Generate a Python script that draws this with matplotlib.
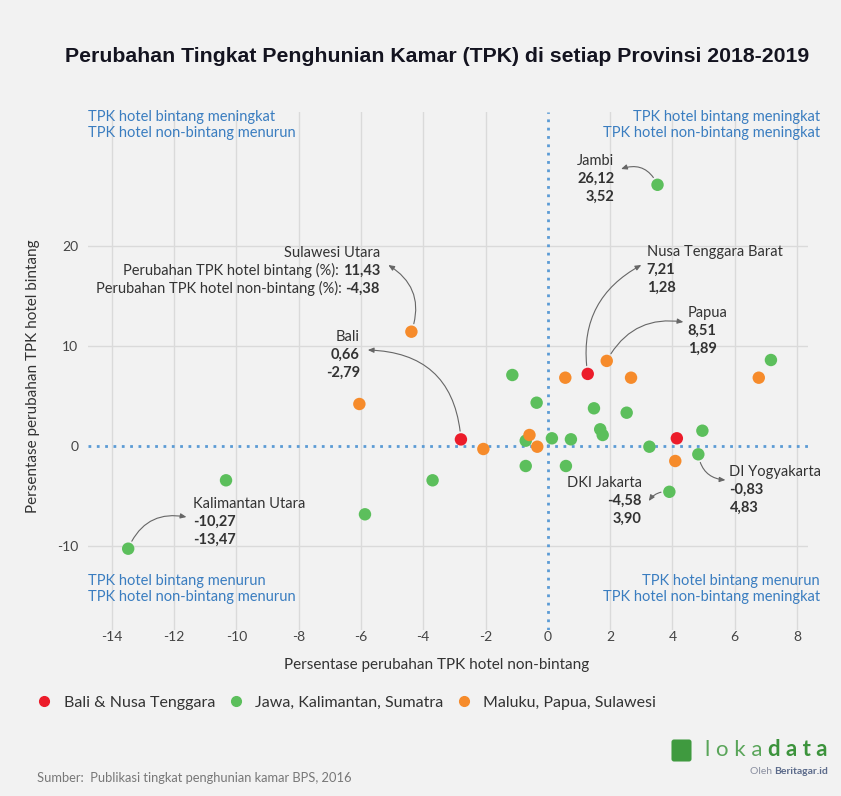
import numpy as np
import matplotlib
matplotlib.use("Agg")
import matplotlib.pyplot as plt
from matplotlib.patches import FancyBboxPatch
from matplotlib.lines import Line2D

plt.rcParams['font.family'] = ['Lato', 'DejaVu Sans']
plt.rcParams['axes.unicode_minus'] = False

# ---- data: x = non-bintang change (%), y = bintang change (%) ----
bali_nt_x = [-2.79, 1.28, 4.14]
bali_nt_y = [0.66, 7.21, 0.77]

jks_x = [3.52, -13.47, -10.33, -3.70, -5.87, 7.16, -1.14, -0.36, 1.48, 2.53, 1.68,
         1.76, 4.96, 3.26, 4.83, 3.90, -0.71, 0.13, 0.74, -0.71, 0.58]
jks_y = [26.12, -10.27, -3.43, -3.43, -6.83, 8.60, 7.10, 4.33, 3.77, 3.33, 1.67,
         1.10, 1.53, -0.07, -0.83, -4.58, 0.53, 0.77, 0.67, -2.00, -2.00]

mps_x = [-4.38, -6.05, -2.07, -0.59, -0.34, 0.56, 1.89, 2.67, 4.09, 6.77]
mps_y = [11.43, 4.20, -0.30, 1.10, -0.07, 6.83, 8.51, 6.83, -1.50, 6.83]

groups = ['Bali & Nusa Tenggara', 'Jawa, Kalimantan, Sumatra', 'Maluku, Papua, Sulawesi']
colors = ['#ec1c2a', '#5cbf5c', '#f68b2b']

# annotated provinces: name, x, y
ann_names = ['Jambi', 'Nusa Tenggara Barat', 'Papua', 'Bali', 'Kalimantan Utara',
             'DKI Jakarta', 'DI Yogyakarta']
ann_x = [3.52, 1.28, 1.89, -2.79, -13.47, 3.90, 4.83]
ann_y = [26.12, 7.21, 8.51, 0.66, -10.27, -4.58, -0.83]

def fmt(v):
    return ('%.2f' % v).replace('.', ',')

fig = plt.figure(figsize=(8.41, 7.96), dpi=100)
fig.patch.set_facecolor('#f2f2f2')
ax = fig.add_axes([88/841, 1-630/796, 720/841, 518/796])
ax.set_facecolor('#f2f2f2')

ax.set_xlim(-14.76, 8.35)
ax.set_ylim(-18.4, 33.4)
ax.set_xticks(np.arange(-14, 9, 2))
ax.set_yticks([-10, 0, 10, 20])
for s in ax.spines.values():
    s.set_visible(False)
ax.tick_params(length=0, labelsize=10, colors='#444444')
ax.tick_params(axis='x', pad=1)
ax.tick_params(axis='y', pad=7)

for v in np.arange(-14, 9, 2):
    if v != 0:
        ax.axvline(v, color='#dadada', lw=1, zorder=0)
for v in [-10, 10, 20]:
    ax.axhline(v, color='#dadada', lw=1, zorder=0)
ax.axhline(0, color='#5b9bd5', lw=2, ls=(0, (1, 2)), zorder=1)
ax.axvline(0, color='#5b9bd5', lw=2, ls=(0, (1, 2)), zorder=1)

for xs, ys, c, g in zip([bali_nt_x, jks_x, mps_x], [bali_nt_y, jks_y, mps_y], colors, groups):
    ax.scatter(xs, ys, s=80, color=c, edgecolors='none', zorder=3, label=g)

ax.set_xlabel('Persentase perubahan TPK hotel non-bintang', fontsize=11, color='#333333')
ax.xaxis.set_label_coords((437-88)/720, -0.055)
ax.set_ylabel('Persentase perubahan TPK hotel bintang', fontsize=11, color='#333333')
ax.yaxis.set_label_coords(-0.067, 0.49)

# ---- annotations ----
tcol = '#333333'
aprops = dict(arrowstyle='-|>,head_length=0.35,head_width=0.15', color='#666666', lw=0.8,
              shrinkA=6, shrinkB=0)

# text position (data), alignment, arrow end (data), curvature
txt_pos = [(2.13, 28.5), (3.17, 19.4), (4.49, 13.3), (-6.03, 10.9), (-11.39, -5.8),
           (3.01, -3.67), (5.83, -2.57)]
txt_ha = ['right', 'left', 'left', 'right', 'left', 'right', 'left']
arr_end = [(2.35, 27.7), (3.0, 18.1), (4.35, 12.4), (-5.78, 9.6), (-11.6, -7.1),
           (3.24, -5.5), (5.7, -3.4)]
arr_rad = [0.45, -0.35, -0.35, 0.45, -0.4, 0.3, 0.4]

for name, px, py, (tx, ty), ha, (ex, ey), rad in zip(ann_names, ann_x, ann_y, txt_pos,
                                                    txt_ha, arr_end, arr_rad):
    ax.text(tx, ty, name, ha=ha, va='center', fontsize=10.5, color=tcol, zorder=5)
    ax.text(tx, ty - 1.8, fmt(py), ha=ha, va='center', fontsize=10.5, color=tcol,
            fontweight='bold', zorder=5)
    ax.text(tx, ty - 3.6, fmt(px), ha=ha, va='center', fontsize=10.5, color=tcol,
            fontweight='bold', zorder=5)
    ax.annotate('', xy=(ex, ey), xytext=(px, py),
                arrowprops=dict(connectionstyle='arc3,rad=%s' % rad, **aprops))

# Sulawesi Utara with long labels
su_x, su_y = mps_x[0], mps_y[0]
ax.text(-5.39, 19.3, 'Sulawesi Utara', ha='right', va='center', fontsize=10.5, color=tcol)
n1 = ax.text(-5.39, 17.5, fmt(su_y), ha='right', va='center', fontsize=10.5, color=tcol,
             fontweight='bold')
n2 = ax.text(-5.39, 15.7, fmt(su_x), ha='right', va='center', fontsize=10.5, color=tcol,
             fontweight='bold')
ax.annotate('Perubahan TPK hotel bintang (%): ', xy=(0, 0), xycoords=n1, ha='right',
            va='bottom', fontsize=10.5, color=tcol)
ax.annotate('Perubahan TPK hotel non-bintang (%): ', xy=(0, 0), xycoords=n2, ha='right',
            va='bottom', fontsize=10.5, color=tcol)
ax.annotate('', xy=(-5.12, 18.1), xytext=(su_x, su_y),
            arrowprops=dict(connectionstyle='arc3,rad=0.4', **aprops))

# ---- quadrant notes ----
qc = '#3a7dc0'
fig.text(88/841, 1-117/796, 'TPK hotel bintang meningkat', color=qc, fontsize=10.5, va='center')
fig.text(88/841, 1-133/796, 'TPK hotel non-bintang menurun', color=qc, fontsize=10.5, va='center')
fig.text(820/841, 1-117/796, 'TPK hotel bintang meningkat', color=qc, fontsize=10.5, va='center', ha='right')
fig.text(820/841, 1-133/796, 'TPK hotel non-bintang meningkat', color=qc, fontsize=10.5, va='center', ha='right')
fig.text(88/841, 1-581/796, 'TPK hotel bintang menurun', color=qc, fontsize=10.5, va='center')
fig.text(88/841, 1-597/796, 'TPK hotel non-bintang menurun', color=qc, fontsize=10.5, va='center')
fig.text(820/841, 1-581/796, 'TPK hotel bintang menurun', color=qc, fontsize=10.5, va='center', ha='right')
fig.text(820/841, 1-597/796, 'TPK hotel non-bintang meningkat', color=qc, fontsize=10.5, va='center', ha='right')

# ---- title ----
fig.text(437/841, 1-57/796, 'Perubahan Tingkat Penghunian Kamar (TPK) di setiap Provinsi 2018-2019',
         ha='center', va='center', fontsize=15.3, fontweight='bold', color='#141420',
         family='Liberation Sans')

# ---- legend ----
handles = [Line2D([], [], marker='o', ls='', color=c, markersize=7) for c in colors]
fig.legend(handles, groups, loc='center left', bbox_to_anchor=(14/841, 1-703/796), ncol=3,
           frameon=False, fontsize=11.5, handletextpad=0.2, columnspacing=0.3,
           labelcolor='#333333')

# ---- source & logo ----
fig.text(37/841, 1-778/796, 'Sumber:  Publikasi tingkat penghunian kamar BPS, 2016',
         fontsize=9.3, color='#777777', va='center')
fig.patches.append(FancyBboxPatch((674/841, 1-759/796), 15/841, 17/796,
                                  boxstyle='round,pad=0.003', transform=fig.transFigure,
                                  fc='#3f9a3f', ec='none', mutation_aspect=841/796))
d_txt = fig.text(828/841, 1-750/796, 'd a t a', fontsize=16, color='#3c933c', va='center',
                 ha='right', fontweight='bold')
ax.annotate('l o k a ', xy=(0, 0.5), xycoords=d_txt, ha='right', va='center',
            fontsize=16, color='#5aa55a', annotation_clip=False)
b_txt = fig.text(828/841, 1-772/796, 'Beritagar.id', fontsize=7.5, color='#5b6a8a',
                 va='center', ha='right', fontweight='bold')
ax.annotate('Oleh ', xy=(0, 0.5), xycoords=b_txt, ha='right', va='center',
            fontsize=7.5, color='#8a8fa0', annotation_clip=False)

fig.savefig('out.png', dpi=100, facecolor=fig.get_facecolor())
